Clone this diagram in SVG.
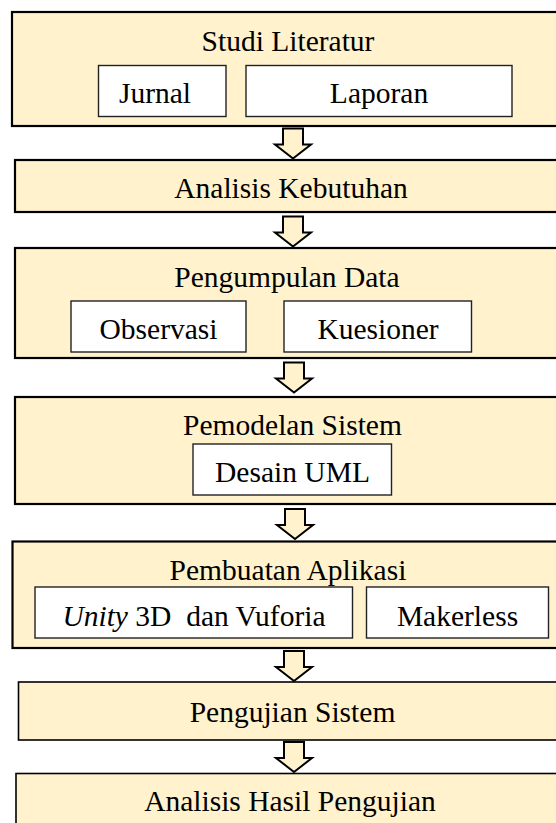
<svg xmlns="http://www.w3.org/2000/svg" xmlns:xlink="http://www.w3.org/1999/xlink" width="556" height="823" viewBox="0 0 556 823">
  <style>
    .stage { fill: #FFF2CC; stroke: #000; stroke-width: 2.2; }
    .stage-thin { fill: #FFF2CC; stroke: #000; stroke-width: 1.6; }
    .item { fill: #FFFFFF; stroke: #222; stroke-width: 1.4; }
    .arrow { fill: #FFF2CC; stroke: #000; stroke-width: 2; stroke-linejoin: miter; }
    text { font-family: "Liberation Serif", "Times New Roman", serif; font-size: 29.5px; fill: #000; text-anchor: middle; }
  </style>
  <defs>
    <!-- block arrow: stem 20 wide, head 36 wide, 30 tall; origin at top centre -->
    <path id="down-arrow" d="M-10,0 H10 V16 H18 L0,30 L-18,16 H-10 Z"/>
  </defs>

  <rect width="556" height="823" fill="#FFFFFF"/>

  <g id="studi-literatur">
    <rect class="stage" x="12" y="12" width="560" height="114"/>
    <text x="288" y="51">Studi Literatur</text>
    <rect class="item" x="98.5" y="65.5" width="127.5" height="51"/>
    <text x="155" y="103">Jurnal</text>
    <rect class="item" x="246" y="65.5" width="266" height="51"/>
    <text x="379" y="103">Laporan</text>
  </g>

  <g id="analisis-kebutuhan">
    <rect class="stage" x="15" y="160" width="560" height="52"/>
    <text x="291" y="198">Analisis Kebutuhan</text>
  </g>

  <g id="pengumpulan-data">
    <rect class="stage" x="15" y="248" width="560" height="110"/>
    <text x="287" y="287">Pengumpulan Data</text>
    <rect class="item" x="71" y="301" width="175" height="51"/>
    <text x="158.5" y="339">Observasi</text>
    <rect class="item" x="284" y="301" width="187.5" height="51"/>
    <text x="378" y="339">Kuesioner</text>
  </g>

  <g id="pemodelan-sistem">
    <rect class="stage" x="15" y="397" width="560" height="107"/>
    <text x="292.5" y="435">Pemodelan Sistem</text>
    <rect class="item" x="193" y="444" width="198.5" height="51"/>
    <text x="292.5" y="482">Desain UML</text>
  </g>

  <g id="pembuatan-aplikasi">
    <rect class="stage" x="12.5" y="541.5" width="560" height="106.5"/>
    <text x="288" y="580">Pembuatan Aplikasi</text>
    <rect class="item" x="35" y="587" width="317.5" height="51"/>
    <text x="194" y="626" xml:space="preserve"><tspan font-style="italic">Unity</tspan> 3D  dan Vuforia</text>
    <rect class="item" x="366.5" y="587" width="182" height="51"/>
    <text x="457.5" y="626">Makerless</text>
  </g>

  <g id="pengujian-sistem">
    <rect class="stage-thin" x="18.5" y="682" width="560" height="58"/>
    <text x="292.5" y="722">Pengujian Sistem</text>
  </g>

  <g id="analisis-hasil-pengujian">
    <rect class="stage-thin" x="16" y="773.5" width="560" height="80"/>
    <text x="290" y="811">Analisis Hasil Pengujian</text>
  </g>

  <g id="connectors">
    <use class="arrow" xlink:href="#down-arrow" href="#down-arrow" x="293" y="128.5"/>
    <use class="arrow" xlink:href="#down-arrow" href="#down-arrow" x="293" y="216.5"/>
    <use class="arrow" xlink:href="#down-arrow" href="#down-arrow" x="294" y="362.5"/>
    <use class="arrow" xlink:href="#down-arrow" href="#down-arrow" x="295" y="509"/>
    <use class="arrow" xlink:href="#down-arrow" href="#down-arrow" x="294" y="651"/>
    <use class="arrow" xlink:href="#down-arrow" href="#down-arrow" x="294" y="742"/>
  </g>
</svg>
